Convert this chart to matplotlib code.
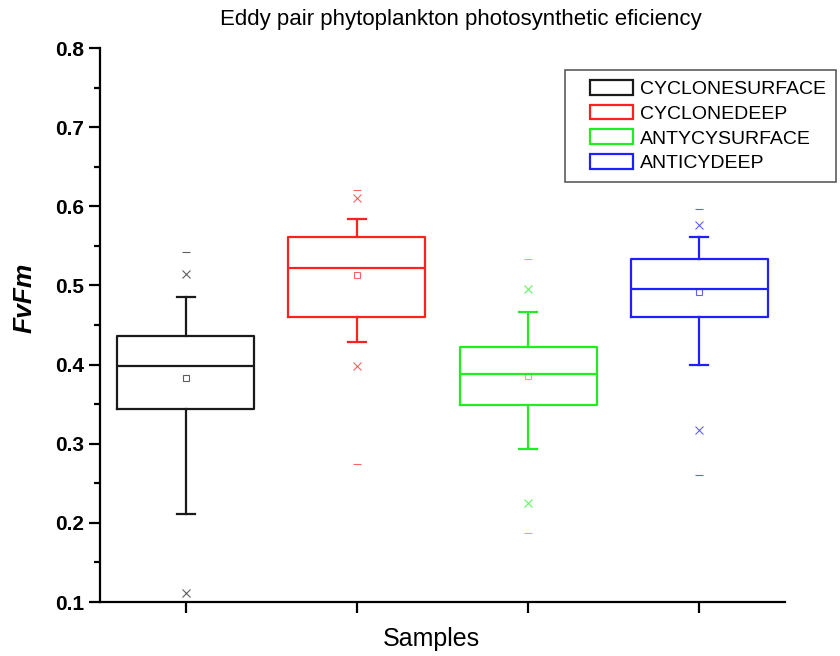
import numpy as np
import matplotlib
matplotlib.use("Agg")
import matplotlib.pyplot as plt
from matplotlib.patches import Patch, Rectangle
from matplotlib.legend_handler import HandlerPatch
from matplotlib.ticker import MultipleLocator

plt.rcParams['font.family'] = ['Liberation Sans', 'DejaVu Sans']

# ---------------------------- data ----------------------------#
samples = ["CYCLONESURFACE", "CYCLONEDEEP", "ANTYCYSURFACE", "ANTICYDEEP"]
colors = ["#1a1a1a", "#ff2020", "#20ee20", "#2020ff"]

maxima = [0.542, 0.621, 0.533, 0.597]
p99 = [0.515, 0.610, 0.496, 0.576]
whis_hi = [0.485, 0.584, 0.466, 0.561]
q3 = [0.436, 0.561, 0.422, 0.534]
medians = [0.398, 0.522, 0.388, 0.496]
means = [0.383, 0.513, 0.385, 0.492]
q1 = [0.344, 0.460, 0.349, 0.460]
whis_lo = [0.211, 0.428, 0.293, 0.400]
p01 = [0.112, 0.398, 0.225, 0.317]
minima = [np.nan, 0.274, 0.187, 0.261]


def box_handle(legend, orig_handle, xdescent, ydescent, width, height, fontsize):
    # legend box drawn a bit to the right, like the Origin legend
    return Rectangle((-xdescent + 0.26 * width, -ydescent), 0.74 * width, height)

# ---------------------------------- plot -------------------------------------#
fig = plt.figure(figsize=(8.4, 6.56), dpi=100)
ax = fig.add_axes([100/840, 1 - 602/656, 685/840, 554/656])

positions = np.arange(1, len(samples) + 1)
for i, c in enumerate(colors):
    st = dict(med=medians[i], q1=q1[i], q3=q3[i], whislo=whis_lo[i],
              whishi=whis_hi[i], mean=means[i], fliers=[])
    ax.bxp([st], positions=[positions[i]], widths=0.8, capwidths=0.105,
           showmeans=True, showfliers=False,
           boxprops=dict(color=c, lw=1.6),
           medianprops=dict(color=c, lw=1.6),
           whiskerprops=dict(color=c, lw=1.6),
           capprops=dict(color=c, lw=1.6),
           meanprops=dict(marker="s", markersize=5, markerfacecolor="none",
                          markeredgecolor=c, markeredgewidth=0.8, alpha=0.7))
    ax.plot([positions[i]] * 2, [p01[i], p99[i]], ls="none", marker="x",
            markersize=6, color=c, mew=0.8, alpha=0.7)
    ax.plot([positions[i]] * 2, [minima[i], maxima[i]], ls="none", marker="_",
            markersize=6, color=c, mew=0.8, alpha=0.7)

ax.set_xlim(0.5, 4.5)
ax.set_ylim(0.1, 0.8)
ax.set_xticks(positions)
ax.set_xticklabels([])
ax.yaxis.set_minor_locator(MultipleLocator(0.05))
ax.set_yticks(np.arange(0.1, 0.81, 0.1))
ax.set_yticklabels(["%.1f" % v for v in np.arange(0.1, 0.81, 0.1)],
                   fontsize=15, fontweight="bold")

for s in ["top", "right"]:
    ax.spines[s].set_visible(False)
for s in ["left", "bottom"]:
    ax.spines[s].set_linewidth(1.6)
ax.tick_params(axis="both", which="major", direction="out", length=8, width=1.6)
ax.tick_params(axis="y", which="minor", direction="out", length=4, width=1.6)

ax.set_ylabel("FvFm", fontsize=19, fontweight="bold", style="italic")
ax.yaxis.set_label_coords((37 - 100) / 685, (602 - 298) / 554)
ax.set_xlabel("Samples", fontsize=18)
ax.xaxis.set_label_coords((431 - 100) / 685, -(627 - 602) / 554)
fig.text(461/840, 1 - 20/656, "Eddy pair phytoplankton photosynthetic eficiency",
         ha="center", va="center", fontsize=16)

handles = [Patch(facecolor="none", edgecolor=c, lw=1.6) for c in colors]
leg = ax.legend(handles, samples, loc="upper left",
                bbox_to_anchor=(565/840, 1 - 70/656), bbox_transform=fig.transFigure,
                borderaxespad=0, fontsize=14, frameon=True, fancybox=False,
                handlelength=3.0, handleheight=0.8, handletextpad=0.35,
                labelspacing=0.34, borderpad=0.5,
                handler_map={Patch: HandlerPatch(patch_func=box_handle)})
leg.get_frame().set_edgecolor("#333333")
leg.get_frame().set_linewidth(1.2)

fig.savefig("out.png", dpi=100)
